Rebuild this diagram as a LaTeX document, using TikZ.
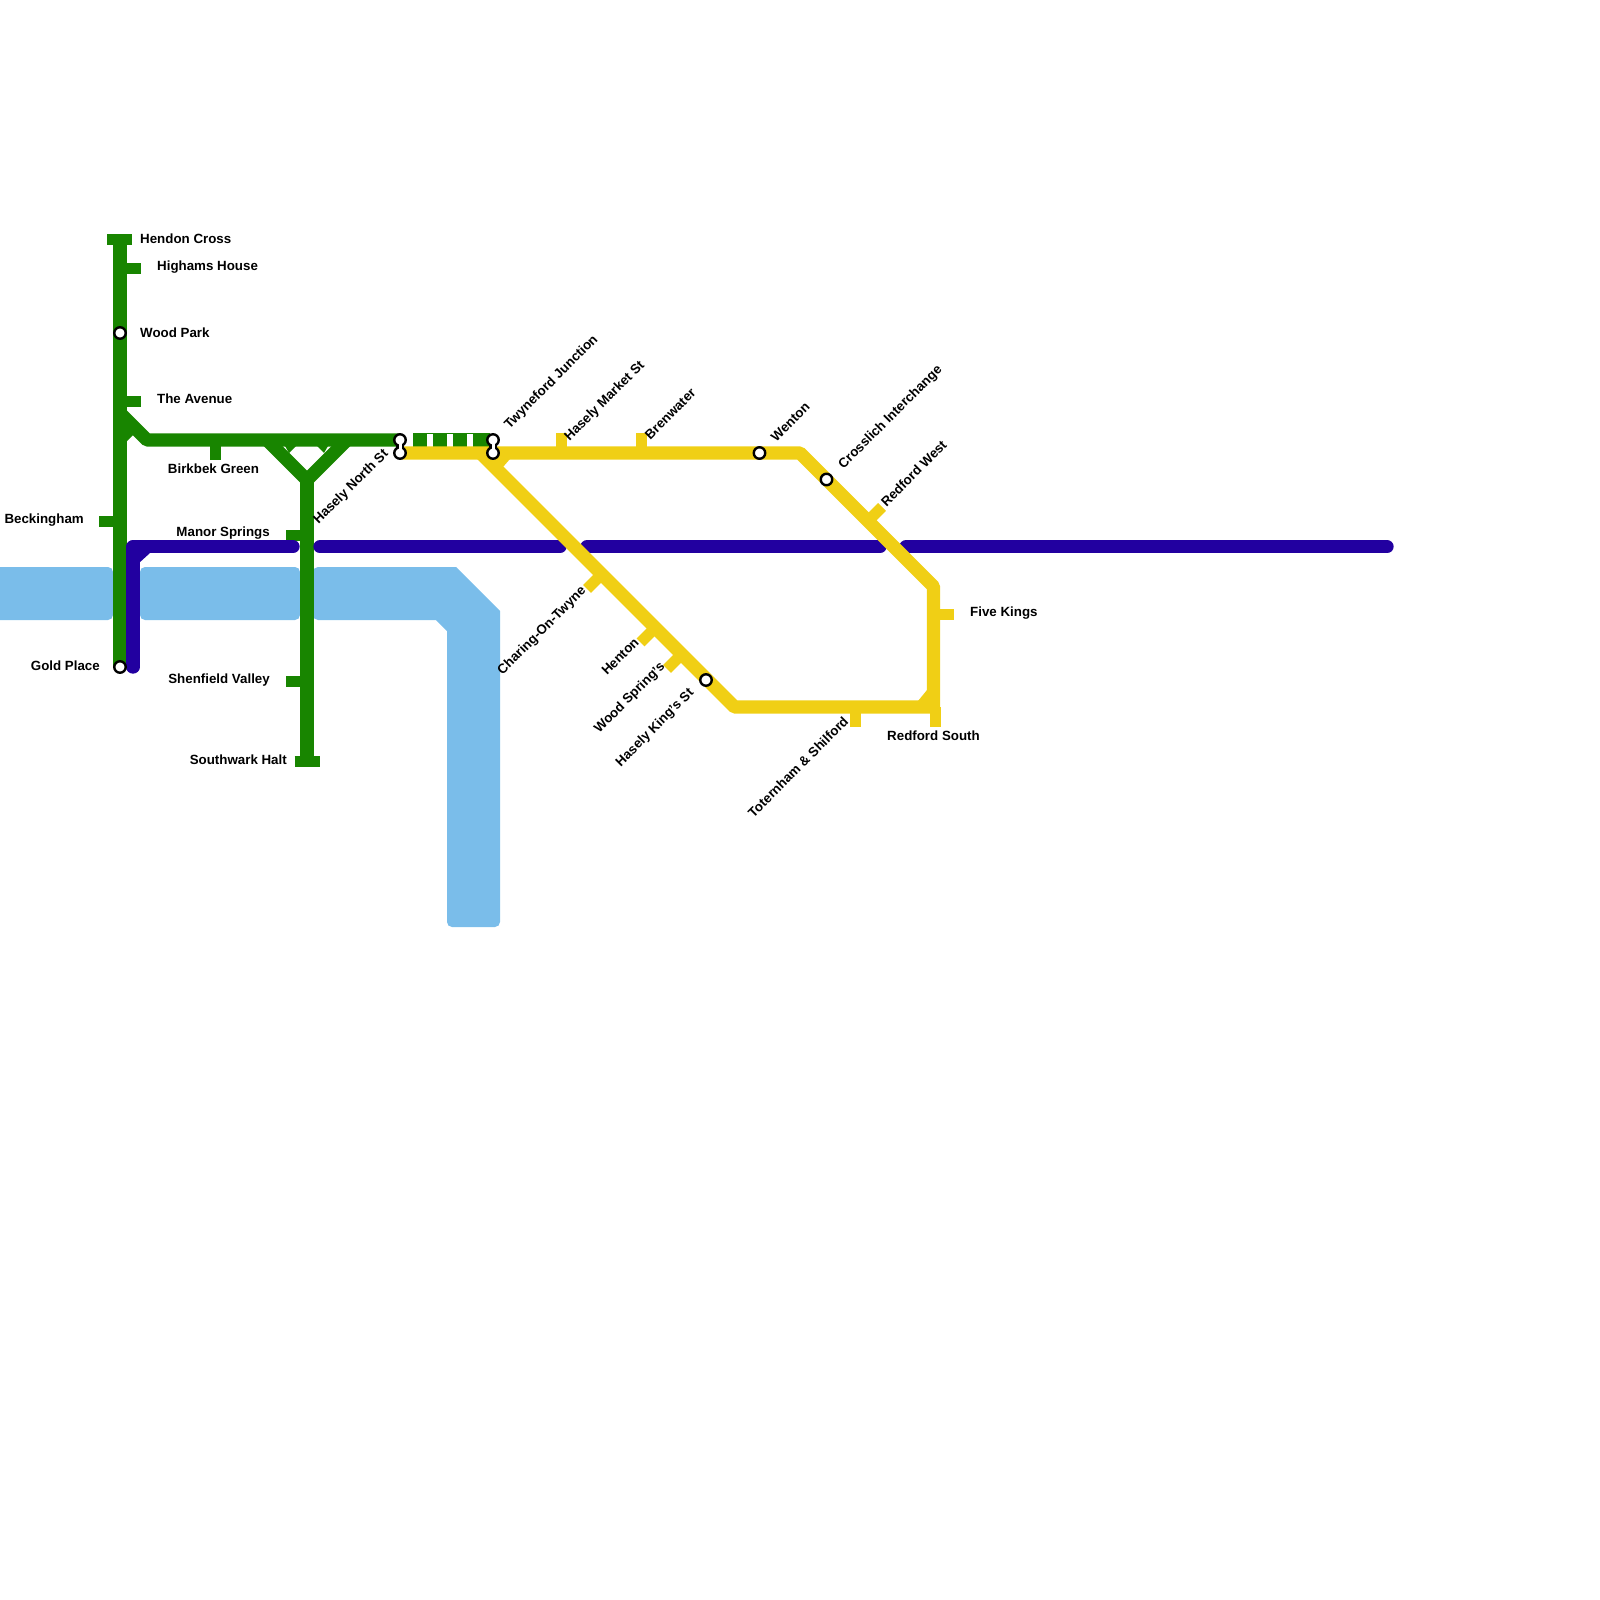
\documentclass[tikz,border=0pt]{standalone}
\usepackage{fontspec}
\setmainfont{Liberation Sans}
\usepackage{tikz}

\definecolor{linegreen}{HTML}{188500}
\definecolor{lineblue}{HTML}{2200A0}
\definecolor{lineyellow}{HTML}{F0CF15}
\definecolor{riverblue}{HTML}{7ABDEA}

\begin{document}
\begin{tikzpicture}[
x=1pt, y=-1pt,
greenline/.style={draw=linegreen, line width=13.33pt},
blueline/.style={draw=lineblue, line width=13.33pt, line cap=round, line join=round},
yellowline/.style={draw=lineyellow, line width=13.33pt},
greentick/.style={draw=linegreen, line width=11pt},
yellowtick/.style={draw=lineyellow, line width=11pt},
river/.style={fill=riverblue, rounded corners=5pt},
stationmark/.style={circle, draw=black, fill=white, line width=2.4pt, minimum size=11.5pt, inner sep=0pt},
stationlink/.style={draw=black, line width=8pt},
stationgap/.style={draw=white, line width=3pt},
stationname/.style={font=\fontsize{13.33}{15}\selectfont\bfseries, inner sep=0pt, text=black}]

\useasboundingbox (0,0) rectangle (1600,1600);

\fill[river] (-10,567) rectangle (113,620);
\fill[river] (140,567) rectangle (300,620);
\fill[river] (313,567) {[sharp corners] -- (456,567) -- (500,611)} -- (500,927) -- (447,927)
  {[sharp corners] -- (447,631) -- (436,620)} -- (313,620) -- cycle;

\coordinate (hendon) at (120,234);
\coordinate (goldend) at (120,667);
\coordinate (fork) at (120,413);
\coordinate (bend) at (147,440);
\coordinate (hasnorth) at (400,440);
\coordinate (diamondl) at (267,440);
\coordinate (diamondr) at (347,440);
\coordinate (manorjct) at (307,480);
\coordinate (southwark) at (307,767);

\draw[greenline] (hendon) -- (goldend);
\draw[greenline, line join=bevel] (fork) -- (bend) -- (hasnorth);
\draw[greenline, line join=bevel] (diamondl) -- (manorjct) -- (diamondr);
\draw[greenline] (manorjct) -- (southwark);
\fill[linegreen] (127,441) -- (135,433) -- (127,425) -- cycle;
\fill[linegreen] (289,453) -- (296,446) -- (285,446) -- cycle;
\fill[linegreen] (324,453) -- (317,446) -- (328,446) -- cycle;

\draw[greentick] (107,239) -- (132,239);
\draw[greentick] (120,268.5) -- (141,268.5);
\draw[greentick] (120,401.5) -- (141,401.5);
\draw[greentick] (99,521.5) -- (120,521.5);
\draw[greentick] (215.5,440) -- (215.5,460);
\draw[greentick] (286,535) -- (307,535);
\draw[greentick] (286,681.5) -- (307,681.5);
\draw[greentick] (294.5,761) -- (319.5,761);

\coordinate (trackstart) at (413,440);
\coordinate (trackend) at (490,440);
\draw[greenline] (trackstart) -- (trackend);
\foreach \gapx in {430,450,470}
  \fill[white] (\gapx-3,433.5) rectangle (\gapx+3,446.5);

\coordinate (cornerv) at (133,546.7);
\coordinate (blueend) at (133,667);
\coordinate (bluea) at (293,546.7);
\coordinate (blueb) at (320,546.7);
\coordinate (bluec) at (560,546.7);
\coordinate (blued) at (587,546.7);
\coordinate (bluee) at (880,546.7);
\coordinate (bluef) at (906,546.7);
\coordinate (blueg) at (1387,546.7);
\draw[blueline] (blueend) -- (cornerv) -- (bluea);
\draw[blueline] (blueb) -- (bluec);
\draw[blueline] (blued) -- (bluee);
\draw[blueline] (bluef) -- (blueg);
\fill[lineblue] (139,563) -- (150,553) -- (139,553) -- cycle;

\coordinate (yellowstart) at (400,453);
\coordinate (yellowfork) at (480.5,453);
\coordinate (yellowtop) at (800,453);
\coordinate (yellowright) at (933.5,586.5);
\coordinate (yellowbottom) at (933.5,707);
\coordinate (yellowlow) at (734.5,707);

\draw[yellowline, line join=bevel] (yellowstart) -- (yellowtop) -- (yellowright) -- (yellowbottom);
\draw[yellowline, line join=bevel] (yellowfork) -- (yellowlow) -- (yellowbottom);
\fill[lineyellow] (503,467) -- (510,459) -- (495,459) -- cycle;
\fill[lineyellow] (927,690) -- (918,701) -- (927,701) -- cycle;

\draw[yellowtick] (561.5,453) -- (561.5,433);
\draw[yellowtick] (641,453) -- (641,433);
\draw[yellowtick] (868,521) -- (882,507);
\draw[yellowtick] (933,614) -- (954,614);
\draw[yellowtick] (935,707) -- (935,727);
\draw[yellowtick] (855,707) -- (855,727);
\draw[yellowtick] (601,575) -- (587,589);
\draw[yellowtick] (655,628) -- (640.5,642.5);
\draw[yellowtick] (681,655) -- (667,669);

\draw[stationlink] (400,440) -- (400,453);
\draw[stationlink] (493,440) -- (493,453);
\node[stationmark] (woodpark) at (120,333) {};
\node[stationmark] (goldplace) at (120,667) {};
\node[stationmark] (hasnorthg) at (400,440) {};
\node[stationmark] (hasnorthy) at (400,453) {};
\node[stationmark] (twyneg) at (493,440) {};
\node[stationmark] (twyney) at (493,453) {};
\node[stationmark] (wenton) at (759.5,453) {};
\node[stationmark] (crosslich) at (826.5,479.5) {};
\node[stationmark] (hasking) at (706,680) {};
\draw[stationgap] (hasnorthg.center) -- (hasnorthy.center);
\draw[stationgap] (twyneg.center) -- (twyney.center);

\node[stationname, anchor=west] (hendonlbl) at (140,239) {Hendon Cross};
\node[stationname, anchor=west] (highamslbl) at (157,267) {Highams House};
\node[stationname, anchor=west] (woodparklbl) at (140,332.5) {Wood Park};
\node[stationname, anchor=west] (avenuelbl) at (157,399) {The Avenue};
\node[stationname, anchor=east] (beckinghamlbl) at (84,520) {Beckingham};
\node[stationname] (birkbeklbl) at (213.5,468.5) {Birkbek Green};
\node[stationname, anchor=east] (manorlbl) at (270,533) {Manor Springs};
\node[stationname, anchor=east] (goldlbl) at (100,666) {Gold Place};
\node[stationname, anchor=east] (shenfieldlbl) at (270,680) {Shenfield Valley};
\node[stationname, anchor=east] (southwarklbl) at (287,760) {Southwark Halt};
\node[stationname, anchor=west] (fivekingslbl) at (970,613.5) {Five Kings};
\node[stationname] (redfordslbl) at (933.5,736) {Redford South};

\node[stationname, anchor=east, rotate=45] (hasnorthlbl) at (386.5,452) {Hasely North St};
\node[stationname, anchor=west, rotate=45] (twynelbl) at (507,427) {Twyneford Junction};
\node[stationname, anchor=west, rotate=45] (marketlbl) at (567,439) {Hasely Market St};
\node[stationname, anchor=west, rotate=45] (brewaterlbl) at (647,437) {Brenwater};
\node[stationname, anchor=west, rotate=45] (wentonlbl) at (773,439) {Wenton};
\node[stationname, anchor=west, rotate=45] (crosslichlbl) at (841,467) {Crosslich Interchange};
\node[stationname, anchor=west, rotate=45] (redfordwlbl) at (883,504) {Redford West};
\node[stationname, anchor=east, rotate=45] (charinglbl) at (584,589) {Charing-On-Twyne};
\node[stationname, anchor=east, rotate=45] (hentonlbl) at (636.5,640) {Henton};
\node[stationname, anchor=east, rotate=45] (woodspringlbl) at (663,665) {Wood Spring's};
\node[stationname, anchor=east, rotate=45] (kingslbl) at (692,691) {Hasely King's St};
\node[stationname, anchor=east, rotate=45] (toternhamlbl) at (846,719) {Toternham \& Shilford};
\end{tikzpicture}
\end{document}
